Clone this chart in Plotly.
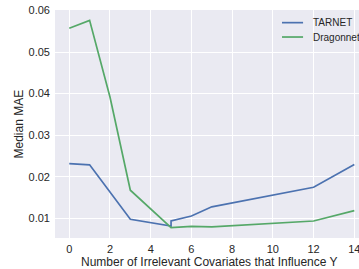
import plotly.graph_objects as go

tarnet_x = [0, 1, 3, 5, 5, 6, 7, 12, 14]
tarnet_y = [0.0232, 0.0229, 0.0098, 0.0082, 0.0094, 0.0106, 0.0128, 0.0175, 0.0230]
dragon_x = [0, 1, 2, 3, 5, 6, 7, 12, 14]
dragon_y = [0.0557, 0.0576, 0.0392, 0.0168, 0.0078, 0.0081, 0.0080, 0.0094, 0.0119]
x_ticks = [0, 2, 4, 6, 8, 10, 12, 14]
y_ticks = [0.01, 0.02, 0.03, 0.04, 0.05, 0.06]
y_tick_labels = ["0.01", "0.02", "0.03", "0.04", "0.05", "0.06"]
series_names = ["TARNET", "Dragonnet"]
series_colors = ["#4C72B0", "#55A868"]

fig = go.Figure()
fig.add_trace(go.Scatter(x=tarnet_x, y=tarnet_y, mode="lines", name=series_names[0],
                         line=dict(color=series_colors[0], width=1.7)))
fig.add_trace(go.Scatter(x=dragon_x, y=dragon_y, mode="lines", name=series_names[1],
                         line=dict(color=series_colors[1], width=1.7)))

# manual legend (matplotlib-like short line samples)
shapes = []
annotations = []
leg_y = [0.9445, 0.8815]
for name, color, ly in zip(series_names, series_colors, leg_y):
    shapes.append(dict(type="line", xref="paper", yref="paper", x0=0.7467, x1=0.8160,
                       y0=ly, y1=ly, line=dict(color=color, width=1.7)))
    annotations.append(dict(text=name, xref="paper", yref="paper", x=0.8420, y=ly,
                            xanchor="left", yanchor="middle", showarrow=False,
                            font=dict(size=10, color="#262626")))

annotations += [
    dict(text="Number of Irrelevant Covariates that Influence Y", xref="paper", yref="paper",
         x=0.508, y=-0.105, xanchor="center", yanchor="middle", showarrow=False,
         font=dict(size=12, color="#262626")),
    dict(text="Median MAE", xref="paper", yref="paper", x=-0.12, y=0.5,
         xanchor="center", yanchor="middle", textangle=-90, showarrow=False,
         font=dict(size=12, color="#262626")),
]

font = "Liberation Sans, Arial, sans-serif"
fig.update_layout(
    width=359, height=269,
    margin=dict(l=55, r=0, t=10, b=31),
    paper_bgcolor="white",
    plot_bgcolor="#EAEAF2",
    font=dict(family=font, size=11, color="#262626"),
    showlegend=False,
    xaxis=dict(range=[-0.7, 14.23], tickvals=x_ticks, showgrid=True, gridcolor="white",
               gridwidth=1, zeroline=False, showline=False, ticks="",
               automargin=False, tickfont=dict(size=11), ticklabeloverflow="allow",
               ticklabelstandoff=3),
    yaxis=dict(range=[0.00531, 0.0601], tickvals=y_ticks, ticktext=y_tick_labels,
               showgrid=True, gridcolor="white", gridwidth=1, zeroline=False,
               showline=False, ticks="", automargin=False, tickfont=dict(size=11),
               ticklabelstandoff=4),
    shapes=shapes,
    annotations=annotations,
)
fig.write_html("out.html", config={"displayModeBar": False},
               post_script="document.body.style.margin='0';document.body.style.overflow='hidden';")
